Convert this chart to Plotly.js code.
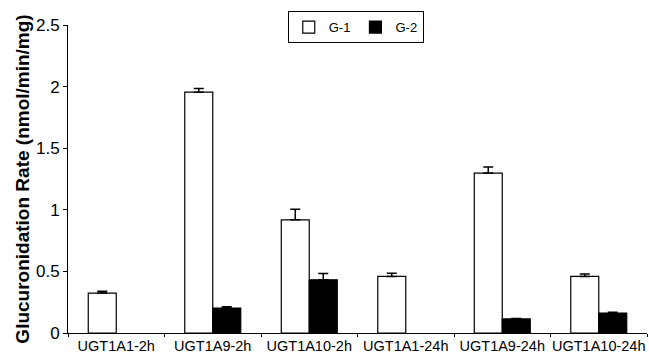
<!DOCTYPE html>
<html>
<head>
<meta charset="utf-8">
<script src="https://cdn.plot.ly/plotly-3.0.1.min.js"></script>
<style>html,body{margin:0;padding:0;background:#fff;}#chart{width:649px;height:354px;}</style>
</head>
<body>
<div id="chart"></div>
<script>
const categories = ["UGT1A1-2h","UGT1A9-2h","UGT1A10-2h","UGT1A1-24h","UGT1A9-24h","UGT1A10-24h"];
const g1Values = [0.324, 1.955, 0.919, 0.459, 1.298, 0.459];
const g1Errors = [0.014, 0.030, 0.085, 0.025, 0.050, 0.020];
const g2Values = [null, 0.203, 0.432, null, 0.114, 0.162];
const g2Errors = [null, 0.010, 0.050, null, 0.004, 0.006];
const yTickVals = [0, 0.5, 1, 1.5, 2, 2.5];
const yTickText = ["0", "0.5", "1", "1.5", "2", "2.5"];

const traces = [
  {
    type: "bar", name: "G-1", x: categories, y: g1Values,
    marker: {color: "#ffffff", line: {color: "#000000", width: 1.2}},
    error_y: {type: "data", array: g1Errors, visible: true, symmetric: false, arrayminus: g1Errors.map(()=>0), color: "#000", thickness: 1.5, width: 5}
  },
  {
    type: "bar", name: "G-2", x: categories, y: g2Values,
    marker: {color: "#000000", line: {color: "#000000", width: 1.2}},
    error_y: {type: "data", array: g2Errors, visible: true, symmetric: false, arrayminus: g2Errors.map(()=>0), color: "#000", thickness: 1.5, width: 5}
  }
];

const layout = {
  width: 649, height: 354,
  margin: {l: 68, r: 2, t: 25, b: 21},
  paper_bgcolor: "#fff", plot_bgcolor: "#fff",
  font: {family: "Liberation Sans, Arial, sans-serif", color: "#000"},
  barmode: "group", bargap: 0.42, bargroupgap: 0,
  showlegend: true,
  legend: {
    orientation: "h", x: 0.497, xanchor: "center", y: 1.045, yanchor: "top",
    bordercolor: "#000", borderwidth: 1, bgcolor: "#fff",
    font: {size: 13}, itemwidth: 30, tracegroupgap: 0
  },
  xaxis: {
    type: "category", showline: true, linecolor: "#000", linewidth: 1,
    ticks: "outside", tickson: "boundaries", ticklen: 3, tickcolor: "#000",
    tickangle: 0, tickfont: {size: 14.5}, showgrid: false, zeroline: false, automargin: false
  },
  yaxis: {
    range: [0, 2.5], tickvals: yTickVals, ticktext: yTickText,
    showline: true, linecolor: "#000", linewidth: 1,
    ticks: "outside", ticklen: 4, tickcolor: "#000",
    tickfont: {size: 17}, showgrid: false, zeroline: false, automargin: false,
    title: {text: "Glucuronidation Rate (nmol/min/mg)", font: {size: 19, weight: "bold"}, standoff: 1}
  }
};

Plotly.newPlot("chart", traces, layout, {displayModeBar: false, staticPlot: true});
</script>
</body>
</html>
